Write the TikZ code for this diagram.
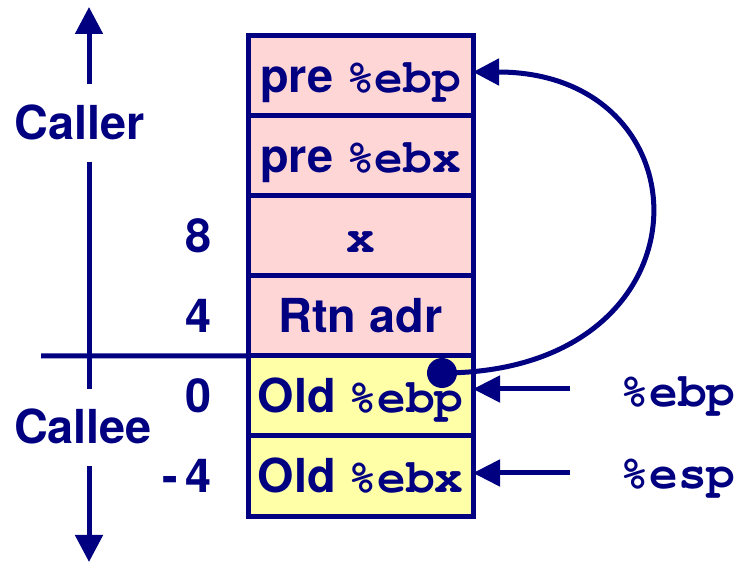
\documentclass[tikz,border=0pt]{standalone}
\usepackage{fontspec}
\setmainfont{TeX Gyre Heros}
\usetikzlibrary{positioning,arrows.meta}
\definecolor{stacknavy}{RGB}{0,0,128}
\definecolor{callerpink}{RGB}{255,214,214}
\definecolor{calleeyellow}{RGB}{255,255,168}
\newcommand{\monofont}{\fontencoding{T1}\fontfamily{pcr}\fontseries{b}\fontsize{48}{48}\selectfont}
\newcommand{\mono}[1]{{\monofont #1}}
\begin{document}
\begin{tikzpicture}[x=1bp,y=1bp,
	every node/.style={text=stacknavy,font=\fontsize{47}{50}\selectfont\bfseries},
	cell/.style={draw=stacknavy,line width=5bp,minimum width=225bp,minimum height=80bp,
		inner sep=0pt,outer sep=0pt,text height=33bp,text depth=0pt},
	offset/.style={inner sep=0pt,text height=33bp,text depth=0pt},
	side/.style={inner xsep=0pt,inner ysep=22bp,text height=33bp,text depth=0pt},
	axis/.style={draw=stacknavy,line width=5bp,-{Triangle[length=27bp,width=27bp]}},
	ptr/.style={draw=stacknavy,line width=5bp,-{Triangle[length=27bp,width=26bp]}},
	link/.style={draw=stacknavy,line width=5bp,-{Triangle[length=26bp,width=26bp]}},
	dot/.style={circle,fill=stacknavy,inner sep=0pt,minimum size=30bp}]
	\useasboundingbox (0,0) rectangle (738,563);

	% stack frame
	\node[cell,fill=callerpink] (preebp) at (360.5,487) {pre \mono{\%ebp}};
	\node[cell,fill=callerpink,below=0pt of preebp] (preebx) {pre \mono{\%ebx}};
	\node[cell,fill=callerpink,below=0pt of preebx] (xarg) {\mono{x}};
	\node[cell,fill=callerpink,below=0pt of xarg] (rtn) {Rtn adr};
	\node[cell,fill=calleeyellow,below=0pt of rtn] (oldebp) {Old \mono{\%ebp}};
	\node[cell,fill=calleeyellow,below=0pt of oldebp] (oldebx) {Old \mono{\%ebx}};

	% offsets
	\node[offset,left=36bp of xarg] (off8) {8};
	\node[offset,left=36bp of rtn] (off4) {4};
	\node[offset,left=36bp of oldebp] (off0) {0};
	\node[offset,left=36bp of oldebx] (offm4) {-\,4};

	% caller / callee axis
	\coordinate (callertop) at (89,556);
	\coordinate (calleebot) at (89,1);
	\node[side] (caller) at (79.5,440) {Caller};
	\node[side] (callee) at (83,135.5) {Callee};
	\draw[axis] (caller.north -| callertop) -- (callertop);
	\draw[stacknavy,line width=5bp] (caller.south -| callertop) -- (callee.north -| callertop);
	\draw[axis] (callee.south -| calleebot) -- (calleebot);

	\coordinate (frameleft) at (41,207);
	\draw[stacknavy,line width=5bp] (frameleft) -- (oldebp.north west);

	% registers
	\node[font=\monofont,inner sep=0pt] (ebpreg) at (678,168) {\%ebp};
	\node[font=\monofont,inner sep=0pt] (espreg) at (678,86) {\%esp};
	\coordinate (ebptail) at (570,174);
	\coordinate (esptail) at (570,90);
	\draw[ptr] (ebptail) -- (ebptail -| oldebp.east);
	\draw[ptr] (esptail) -- (esptail -| oldebx.east);

	% saved frame pointer
	\node[dot] (fp) at ([xshift=-31bp,yshift=-17bp]oldebp.north east) {};
	\draw[link] (fp.center) .. controls +(274,0) and +(240,0) .. ([yshift=4bp]preebp.east);
\end{tikzpicture}
\end{document}
